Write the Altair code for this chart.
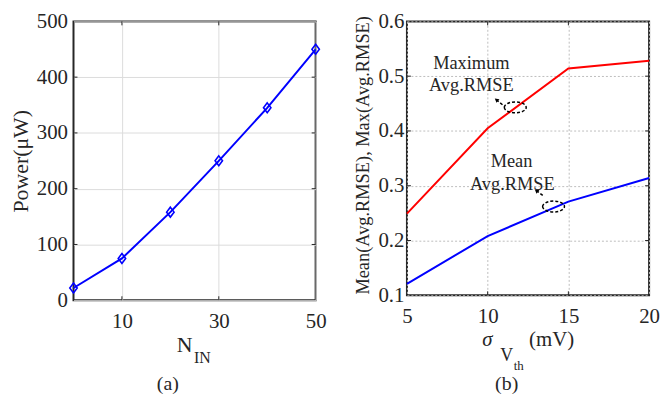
import altair as alt
import pandas as pd

# ---------------- data: panel (a) ----------------
n_in = [0, 10, 20, 30, 40, 50]
power_uw = [22, 75, 158, 250, 345, 450]
a_x_ticks = [10, 30, 50]
a_y_ticks = [0, 100, 200, 300, 400, 500]
a_inner_x_ticks = [10, 30]
a_inner_y_ticks = [100, 200, 300, 400]

# ---------------- data: panel (b) ----------------
sigma_vth = [5, 10, 15, 20]
max_avg_rmse = [0.249, 0.405, 0.514, 0.528]
mean_avg_rmse = [0.121, 0.208, 0.271, 0.314]
b_x_ticks = [5, 10, 15, 20]
b_y_ticks = [0.1, 0.2, 0.3, 0.4, 0.5, 0.6]
b_inner_x_ticks = [10, 15]
b_inner_y_ticks = [0.2, 0.3, 0.4, 0.5]

# annotations in panel (b), data coordinates
ann_text = ["Maximum", "Avg.RMSE", "Mean", "Avg.RMSE"]
ann_x = [8.99, 8.99, 11.48, 11.53]
ann_y = [0.513, 0.473, 0.335, 0.293]
ell_x = [11.71, 14.08]
ell_y = [0.443, 0.262]
tip_x = [10.54, 13.02]
tip_y = [0.457, 0.291]
tail_x = [11.03, 13.51]
tail_y = [0.445, 0.280]

# text pieces
title_a_y = "Power(μW)"
title_b_y = "Mean(Avg.RMSE), Max(Avg.RMSE)"
caption_a = "(a)"
caption_b = "(b)"

FONT = "Liberation Serif, Times New Roman, Times, serif"
TXT = "#262626"
W_A, H_A = 244, 281
W_B, H_B = 244, 276
DIAMOND = "M0,-1L0.75,0L0,1L-0.75,0Z"
ELLIPSE = "M-1,0A1,0.5,0,1,1,1,0A1,0.5,0,1,1,-1,0Z"


def text_layer(txt, x, y, size, align="left", style="normal", baseline="alphabetic"):
    return alt.Chart(pd.DataFrame({"t": [txt]})).mark_text(
        font=FONT, fontSize=size, color=TXT, align=align, baseline=baseline,
        fontStyle=style,
    ).encode(text="t:N", x=alt.value(x), y=alt.value(y))


# ---------------- panel (a) ----------------
dfa = pd.DataFrame({"n": n_in, "p": power_uw})
xa = alt.X("n:Q", scale=alt.Scale(domain=[0, 50], nice=False, zero=False),
           axis=alt.Axis(values=a_x_ticks, title=None, grid=True, gridColor="#dcdcdc",
                         gridWidth=1, labelFlush=False, labelPadding=10))
ya = alt.Y("p:Q", scale=alt.Scale(domain=[0, 500], nice=False),
           axis=alt.Axis(values=a_y_ticks, title=title_a_y, titleFontSize=22,
                         titlePadding=4, grid=True, gridColor="#dcdcdc", gridWidth=1,
                         labelPadding=6))

line_a = alt.Chart(dfa).mark_line(color="#0000ff", strokeWidth=2).encode(x=xa, y=ya)
pts_a = alt.Chart(dfa).mark_point(shape=DIAMOND, size=100, filled=False, color="#0000ff",
                                  strokeWidth=1.6, opacity=1).encode(x=xa, y=ya)
dax = pd.DataFrame({"n": a_inner_x_ticks})
day = pd.DataFrame({"p": a_inner_y_ticks})
tk_a = [
    alt.Chart(dax).mark_rule(color=TXT, strokeWidth=1).encode(x=xa, y=alt.value(H_A), y2=alt.value(H_A - 4)),
    alt.Chart(dax).mark_rule(color=TXT, strokeWidth=1).encode(x=xa, y=alt.value(0), y2=alt.value(4)),
    alt.Chart(day).mark_rule(color=TXT, strokeWidth=1).encode(y=ya, x=alt.value(0), x2=alt.value(4)),
    alt.Chart(day).mark_rule(color=TXT, strokeWidth=1).encode(y=ya, x=alt.value(W_A), x2=alt.value(W_A - 4)),
]
left = alt.layer(
    line_a, pts_a, *tk_a,
    text_layer("N", 104, H_A + 52, 22),
    text_layer("IN", 121.5, H_A + 63, 16),
    text_layer(caption_a, 95, 371, 20, align="center"),
).properties(width=W_A, height=H_A)

# ---------------- panel (b) ----------------
dfb = pd.DataFrame({"s": sigma_vth * 2,
                    "v": max_avg_rmse + mean_avg_rmse,
                    "k": ["max"] * 4 + ["mean"] * 4})
xb = alt.X("s:Q", scale=alt.Scale(domain=[5, 20], nice=False, zero=False),
           axis=alt.Axis(values=b_x_ticks, title=None, grid=True, gridColor="#bdbdbd",
                         gridDash=[2, 2], gridWidth=1, labelFlush=False, labelPadding=10))
yb = alt.Y("v:Q", scale=alt.Scale(domain=[0.1, 0.6], nice=False, zero=False),
           axis=alt.Axis(values=b_y_ticks, format=".1f", title=title_b_y, titleFontSize=18.5,
                         titlePadding=5, titleY=H_B / 2 - 3.5, grid=True, gridColor="#bdbdbd",
                         gridDash=[2, 2], gridWidth=1, labelPadding=3))

line_b = alt.Chart(dfb).mark_line(strokeWidth=2).encode(
    x=xb, y=yb,
    color=alt.Color("k:N", scale=alt.Scale(domain=["max", "mean"], range=["#ff0000", "#0000ff"]),
                    legend=None),
)
dann = pd.DataFrame({"s": ann_x, "v": ann_y, "t": ann_text})
ann = alt.Chart(dann).mark_text(font=FONT, fontSize=18.5, color=TXT, align="center",
                                baseline="alphabetic").encode(x=xb, y=yb, text="t:N")
dell = pd.DataFrame({"s": ell_x, "v": ell_y})
ell = alt.Chart(dell).mark_point(shape=ELLIPSE, size=484, filled=False, color="#000000",
                                 strokeWidth=1.5, strokeDash=[3, 2], opacity=1).encode(x=xb, y=yb)
darr = pd.DataFrame({"s": tip_x, "v": tip_y, "s2": tail_x, "v2": tail_y})
arr_line = alt.Chart(darr).mark_rule(color="#000000", strokeWidth=1.5, strokeDash=[3, 2]).encode(
    x=xb, y=yb, x2="s2:Q", y2="v2:Q")
arr_head = alt.Chart(darr).mark_point(shape="triangle-up", size=22, filled=True, color="#000000",
                                      angle=309, opacity=1).encode(x=xb, y=yb)
dbx = pd.DataFrame({"s": b_inner_x_ticks})
dby = pd.DataFrame({"v": b_inner_y_ticks})
tk_b = [
    alt.Chart(dbx).mark_rule(color=TXT, strokeWidth=1).encode(x=xb, y=alt.value(H_B), y2=alt.value(H_B - 4)),
    alt.Chart(dbx).mark_rule(color=TXT, strokeWidth=1).encode(x=xb, y=alt.value(0), y2=alt.value(4)),
    alt.Chart(dby).mark_rule(color=TXT, strokeWidth=1).encode(y=yb, x=alt.value(0), x2=alt.value(4)),
    alt.Chart(dby).mark_rule(color=TXT, strokeWidth=1).encode(y=yb, x=alt.value(W_B), x2=alt.value(W_B - 4)),
]

right = alt.layer(
    line_b, ann, ell, arr_line, arr_head, *tk_b,
    text_layer("σ", 76, H_B + 51.5, 21, style="italic"),
    text_layer("V", 94, H_B + 66, 18),
    text_layer("th", 107.5, H_B + 75.5, 13),
    text_layer("(mV)", 123, H_B + 51, 21),
    text_layer(caption_b, 100.5, 371, 20, align="center"),
).properties(width=W_B, height=H_B)

chart = alt.hconcat(left, right, spacing=25).properties(
    padding=0, background="white"
).configure_view(
    stroke=TXT, strokeWidth=2
).configure_axis(
    labelFont=FONT, titleFont=FONT, labelColor=TXT, titleColor=TXT,
    labelFontSize=21, titleFontWeight="normal", domain=False, ticks=False,
)

chart.save("out.html", embed_options={"renderer": "svg", "actions": False})
